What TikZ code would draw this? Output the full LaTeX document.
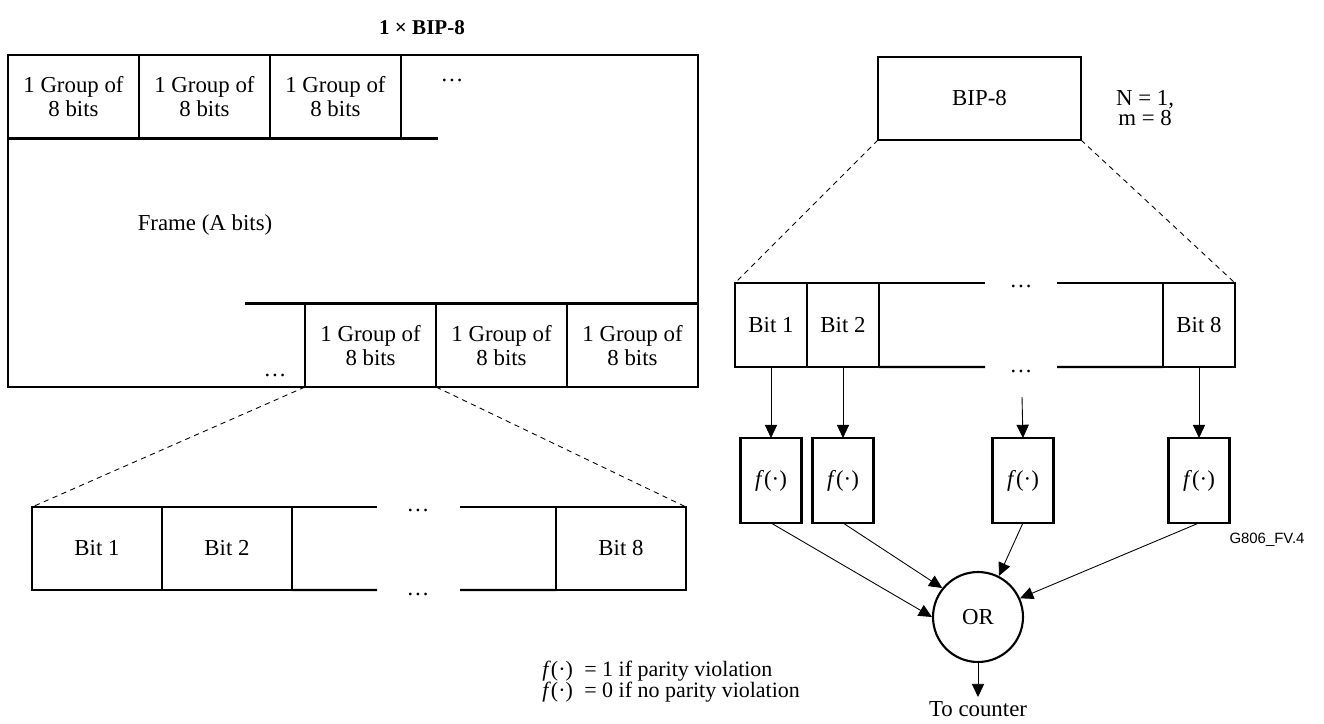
\documentclass[tikz,border=0pt]{standalone}
\usepackage{fontspec}
\setmainfont{Liberation Serif}
\newfontfamily\figidfont{Liberation Sans}
\usetikzlibrary{arrows.meta,positioning,calc}

\begin{document}
\begin{tikzpicture}[
  x=0.02cm, y=-0.02cm,
  every node/.style={align=center, font=\fontsize{13}{13.5}\selectfont},
  cell/.style={draw, line width=1.2pt, inner sep=0pt, outer sep=0pt, minimum width=2.62cm, minimum height=1.67cm},
  bitcell/.style={cell, minimum width=2.6cm, minimum height=1.66cm},
  rbit/.style={cell, minimum width=1.44cm, minimum height=1.68cm},
  fbox/.style={cell, minimum width=1.22cm, minimum height=1.7cm},
  thickline/.style={line width=1.2pt},
  zoomline/.style={dash pattern=on 3pt off 2.5pt, line width=0.5pt},
  arrow/.style={-{Triangle[length=7.5pt, width=7pt]}, line width=0.5pt},
  dots/.style={anchor=base, inner sep=0pt},
  legend/.style={anchor=base west, inner sep=0pt, font=\fontsize{12.5}{12.5}\selectfont}
]
  \useasboundingbox (0,0) rectangle (1324,723);

  \node[font=\bfseries\fontsize{12}{12}\selectfont] (title) at (422,28) {1 × BIP-8};

  % Frame with groups of 8 bits
  \draw[thickline] (8,55) rectangle (698,387);
  \node[cell, anchor=north west] (g1) at (8,55) {1 Group of\\8 bits};
  \node[cell, right=0pt of g1] (g2) {1 Group of\\8 bits};
  \node[cell, right=0pt of g2] (g3) {1 Group of\\8 bits};
  \draw[thickline] (g3.south east) -- ++(37,0);
  \node[dots] (gdots) at (452,82) {\ldots};
  \node (frame) at (205,225) {Frame (A bits)};

  \node[cell, anchor=south east] (b3) at (698,387) {1 Group of\\8 bits};
  \node[cell, left=0pt of b3] (b2) {1 Group of\\8 bits};
  \node[cell, left=0pt of b2] (b1) {1 Group of\\8 bits};
  \draw[thickline] (b1.north west) -- ++(-60,0);
  \node[dots] (bdots) at (275,376) {\ldots};

  % One group expanded into bits
  \node[bitcell, anchor=north west] (lbit1) at (32,507) {Bit 1};
  \node[bitcell, right=0pt of lbit1] (lbit2) {Bit 2};
  \node[bitcell, anchor=north east] (lbit8) at (686,507) {Bit 8};
  \draw[thickline] (lbit2.north east) -- (377,507) (460,507) -- (lbit8.north west);
  \draw[thickline] (lbit2.south east) -- (377,590) (460,590) -- (lbit8.south west);
  \node[dots] (ltopdots) at (418,511) {\ldots};
  \node[dots] (lbotdots) at (418,595) {\ldots};

  \draw[zoomline] (b1.south west) -- (lbit1.north west);
  \draw[zoomline] (b1.south east) -- (lbit8.north east);

  % BIP-8 and its bits
  \node[cell, minimum width=4.06cm, minimum height=1.66cm] (bip) at (979.5,98.5) {BIP-8};
  \node[font=\fontsize{13}{10}\selectfont] (nm) at (1145,108) {N = 1,\\m = 8};

  \node[rbit, anchor=north west] (rbit1) at (735,283) {Bit 1};
  \node[rbit, right=0pt of rbit1] (rbit2) {Bit 2};
  \node[rbit, anchor=north east] (rbit8) at (1235,283) {Bit 8};
  \draw[thickline] (rbit2.north east) -- (985,283) (1057,283) -- (rbit8.north west);
  \draw[thickline] (rbit2.south east) -- (985,367) (1057,367) -- (rbit8.south west);
  \node[dots] (rtopdots) at (1021,287) {\ldots};
  \node[dots] (rbotdots) at (1021,372) {\ldots};

  \draw[zoomline] (bip.south west) -- (rbit1.north west);
  \draw[zoomline] (bip.south east) -- (rbit8.north east);

  % Parity checks
  \node[fbox, below=1.42cm of rbit1] (f1) {\textit{f}(·)};
  \node[fbox, below=1.42cm of rbit2] (f2) {\textit{f}(·)};
  \node[fbox, right=2.38cm of f2] (f3) {\textit{f}(·)};
  \node[fbox, below=1.42cm of rbit8] (f4) {\textit{f}(·)};
  \coordinate (gapin) at (1022,397);

  \draw[arrow] (rbit1.south) -- (f1.north);
  \draw[arrow] (rbit2.south) -- (f2.north);
  \draw[arrow] (gapin) -- (f3.north);
  \draw[arrow] (rbit8.south) -- (f4.north);

  \node[draw, circle, line width=1.2pt, minimum size=1.8cm, inner sep=0pt] (or) at (978,617) {OR};
  \draw[arrow] (f1.south) -- (or.west);
  \draw[arrow] (f2.south) -- (or.141);
  \draw[arrow] (f3.south) -- (or.63);
  \draw[arrow] (f4.south) -- (or.24);

  \coordinate (counter) at (978,697);
  \draw[arrow] (or.south) -- (counter);
  \node[anchor=base, inner sep=0pt] (tocounter) at (978,716) {To counter};

  \node[font=\figidfont\fontsize{8.5}{8.5}\selectfont] (figid) at (1267,540) {G806\_FV.4};

  % Legend
  \node[legend] (leg1) at (542,676) {\textit{f}(·)};
  \node[legend] (leg1t) at (584,676) {= 1 if parity violation};
  \node[legend] (leg2) at (542,697) {\textit{f}(·)};
  \node[legend] (leg2t) at (584,697) {= 0 if no parity violation};
\end{tikzpicture}
\end{document}
